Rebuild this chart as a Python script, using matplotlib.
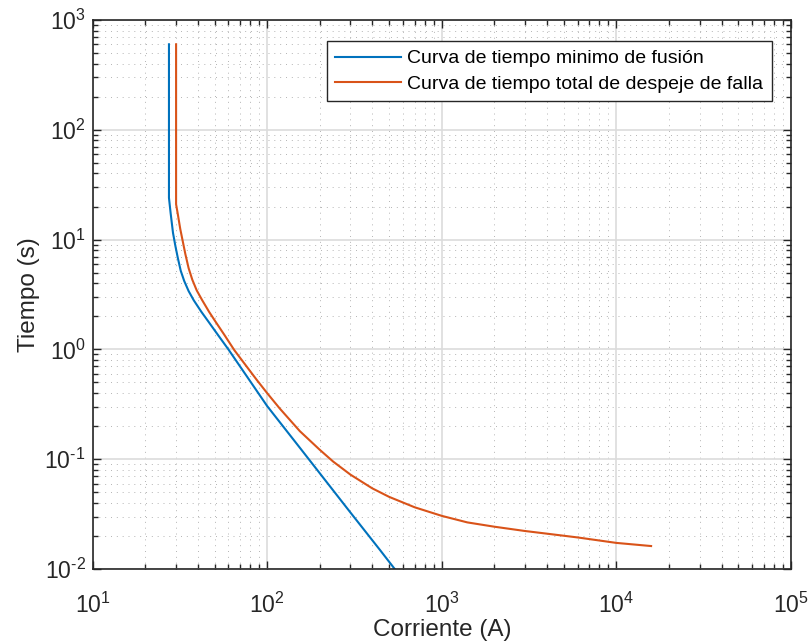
import math

import matplotlib.pyplot as plt
from matplotlib.ticker import LogLocator, NullFormatter, FuncFormatter

plt.rcParams["font.family"] = ["Liberation Sans", "DejaVu Sans"]
plt.rcParams["mathtext.fontset"] = "custom"
plt.rcParams["mathtext.rm"] = "Liberation Sans"
plt.rcParams["mathtext.it"] = "Liberation Sans"
plt.rcParams["mathtext.default"] = "rm"
plt.rcParams["axes.unicode_minus"] = False

# Curva de tiempo minimo de fusion (corriente A, tiempo s)
melt_current = [27.4, 27.4, 28.0, 28.9, 29.8, 30.8, 32.0, 33.5, 35.5, 38.0,
                42.0, 46.0, 52.0, 60.0, 77.0, 100.0, 118.0, 155.0, 300.0,
                443.0, 538.0]
melt_time = [600, 24.0, 17.5, 11.5, 8.8, 6.8, 5.2, 4.2, 3.4, 2.8,
             2.2, 1.8, 1.37, 1.0, 0.56, 0.305, 0.218, 0.1254, 0.0327,
             0.0149, 0.0100]

# Curva de tiempo total de despeje de falla
clear_current = [30.1, 30.1, 30.8, 31.8, 32.8, 34.0, 35.5, 37.3, 39.5, 42.5,
                 46.5, 50.5, 57.0, 65.0, 87.0, 100.0, 118.0, 154.0, 200.0,
                 239.0, 300.0, 400.0, 500.0, 700.0, 1000.0, 1400.0, 2000.0,
                 3000.0, 4000.0, 6000.0, 10000.0, 15800.0]
clear_time = [600, 21.0, 17.0, 12.5, 9.8, 7.4, 5.5, 4.3, 3.45, 2.8,
              2.2, 1.8, 1.35, 0.98, 0.53, 0.40, 0.29, 0.180, 0.122,
              0.0951, 0.0724, 0.0543, 0.0454, 0.0365, 0.0305, 0.0266, 0.0243,
              0.0222, 0.0210, 0.0194, 0.0173, 0.0162]

labels = ["Curva de tiempo minimo de fusión",
          "Curva de tiempo total de despeje de falla"]

dark = "#262626"


def pow10(v, pos):
    return r"$10^{\text{%d}}$" % round(math.log10(v))


fig = plt.figure(figsize=(8.08, 6.43), dpi=100)
ax = fig.add_axes([0.1145, 0.115, 0.8645, 0.854])

ax.loglog(melt_current, melt_time, color="#0072BD", lw=1.5, label=labels[0])
ax.loglog(clear_current, clear_time, color="#D95319", lw=1.5, label=labels[1])

ax.set_xlim(10, 1e5)
ax.set_ylim(1e-2, 1e3)
for axis in (ax.xaxis, ax.yaxis):
    axis.set_major_locator(LogLocator(base=10, numticks=10))
    axis.set_minor_locator(LogLocator(base=10, subs=range(2, 10), numticks=20))
    axis.set_major_formatter(FuncFormatter(pow10))
    axis.set_minor_formatter(NullFormatter())

ax.grid(which="major", color="#dcdcdc", lw=1.2, ls="-")
ax.grid(which="minor", color="#b4b4b4", lw=0.7, ls=(0, (1, 5)))
ax.set_axisbelow(True)

ax.tick_params(which="both", direction="in", top=True, right=True,
               colors=dark, labelsize=16.5, width=1.0)
ax.tick_params(which="major", length=6)
ax.tick_params(which="minor", length=3.5)
ax.tick_params(axis="x", which="major", pad=17)
ax.tick_params(axis="y", which="major", pad=5)
for s in ax.spines.values():
    s.set_color(dark)
    s.set_linewidth(1.2)

ax.set_xlabel("Corriente (A)", fontsize=17.5, color=dark, labelpad=1)
ax.set_ylabel("Tiempo (s)", fontsize=17.5, color=dark, labelpad=3)

leg = ax.legend(loc="upper right", bbox_to_anchor=(0.9728, 0.9617),
                borderaxespad=0, fontsize=14, handlelength=3.4,
                handletextpad=0.3, labelspacing=0.4, borderpad=0.45,
                fancybox=False, framealpha=1, edgecolor=dark)
leg.get_frame().set_linewidth(1.0)

fig.savefig("out.png", dpi=100)
